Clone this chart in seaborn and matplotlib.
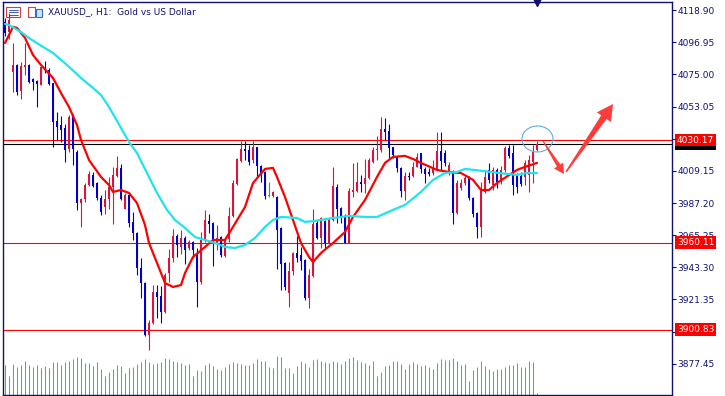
import matplotlib
matplotlib.use("Agg")
import matplotlib.pyplot as plt
from matplotlib.patches import Polygon, Ellipse, Rectangle
import numpy as np
import pandas as pd
import seaborn as sns

# XAUUSD H1 candles, oldest first
opens = [4110.9, 4104.0, 4076.9, 4081.5, 4064.0, 4079.9, 4081.5, 4071.7, 4070.6, 4068.0,
         4079.5, 4078.1, 4069.0, 4043.3, 4040.5, 4038.3, 4023.9, 4046.7, 4022.3, 3987.5,
         3989.8, 3999.5, 4006.4, 4000.7, 3990.5, 3984.7, 3989.8, 3998.0, 4005.9, 4010.9,
         3983.2, 3992.7, 3974.1, 3967.0, 3942.6, 3932.8, 3897.1, 3905.1, 3926.7, 3923.7,
         3913.0, 3939.2, 3949.5, 3964.7, 3957.2, 3963.1, 3956.3, 3960.8, 3951.7, 3933.5,
         3962.0, 3975.0, 3973.4, 3960.1, 3963.8, 3951.1, 3962.5, 3978.4, 4000.2, 4016.1,
         4023.9, 4023.4, 4016.6, 4025.3, 4012.5, 4008.6, 3992.0, 3992.0, 3991.1, 3970.0,
         3946.1, 3926.0, 3940.8, 3953.3, 3951.7, 3948.3, 3922.2, 3937.6, 3973.8, 3963.1,
         3975.0, 3960.1, 3975.6, 3998.4, 3984.0, 3977.9, 3960.1, 3995.0, 3995.6, 4001.8,
         4000.2, 4004.1, 4015.5, 4023.4, 4023.4, 4037.8, 4036.6, 4025.3, 4018.9, 4010.9,
         3995.6, 4005.7, 4005.7, 4012.0, 4021.2, 4010.3, 4008.6, 4007.5, 4010.3, 4022.8,
         4021.2, 4007.5, 4008.6, 3980.6, 3997.3, 4000.7, 4004.1, 3990.5, 3980.6, 3970.9,
         3995.0, 4009.8, 3999.5, 4009.8, 4001.6, 4009.8, 4025.0, 4021.2, 4006.4, 4005.7,
         4005.2, 4006.4, 4015.3, 4023.4]
highs = [4113.6, 4117.0, 4096.7, 4082.2, 4083.8, 4096.3, 4082.2, 4072.6, 4071.3, 4080.3,
         4084.4, 4079.3, 4069.2, 4049.6, 4046.7, 4041.2, 4047.4, 4048.0, 4023.4, 3990.5,
         4000.9, 4009.1, 4008.6, 4001.6, 3992.7, 3996.1, 4005.2, 4012.0, 4019.4, 4013.9,
         3993.9, 3993.4, 3981.3, 3967.6, 3949.5, 3933.3, 3907.3, 3931.2, 3931.2, 3930.6,
         3939.6, 3955.6, 3969.3, 3966.1, 3968.8, 3964.7, 3962.0, 3961.3, 3956.5, 3967.4,
         3982.5, 3979.7, 3974.1, 3972.2, 3964.7, 3963.1, 3984.7, 4003.0, 4017.8, 4029.8,
         4029.8, 4026.9, 4029.8, 4025.7, 4013.2, 4009.3, 4001.8, 3995.6, 3992.0, 3970.7,
         3947.0, 3947.2, 3954.0, 3964.7, 3957.4, 3948.8, 3942.0, 3982.9, 3975.6, 3977.5,
         3975.6, 3977.0, 4012.0, 4000.2, 3984.7, 3979.7, 3997.5, 4014.4, 4015.3, 4006.4,
         4017.1, 4017.8, 4025.7, 4033.0, 4046.2, 4045.3, 4041.2, 4025.7, 4019.6, 4011.8,
         4008.4, 4008.4, 4015.5, 4021.2, 4021.6, 4012.0, 4011.2, 4016.6, 4035.7, 4035.7,
         4023.4, 4015.5, 4009.8, 4003.0, 4003.4, 4005.7, 4005.7, 3991.1, 3981.3, 4001.8,
         4009.8, 4014.6, 4011.8, 4011.2, 4012.5, 4026.2, 4026.9, 4026.9, 4007.7, 4008.4,
         4016.6, 4020.0, 4026.9, 4029.8]
lows = [4101.3, 4099.3, 4063.3, 4061.0, 4058.1, 4074.7, 4069.0, 4064.4, 4053.0, 4067.8,
        4075.8, 4067.8, 4025.3, 4030.3, 4029.1, 4015.5, 4022.3, 4013.2, 3982.5, 3971.1,
        3988.1, 3998.9, 3998.4, 3989.3, 3979.1, 3979.7, 3982.9, 3972.9, 4005.2, 3989.3,
        3982.9, 3971.1, 3962.0, 3938.1, 3922.2, 3896.4, 3886.8, 3904.6, 3908.5, 3905.1,
        3911.9, 3933.5, 3947.2, 3950.6, 3952.4, 3945.6, 3955.1, 3949.5, 3916.4, 3931.9,
        3960.6, 3966.6, 3944.2, 3955.1, 3950.6, 3950.6, 3960.8, 3977.9, 3999.5, 4015.5,
        4016.6, 4013.2, 4014.4, 4005.2, 4001.8, 3989.8, 3991.1, 3991.1, 3942.0, 3927.8,
        3927.8, 3916.4, 3938.1, 3947.2, 3941.5, 3921.0, 3915.3, 3936.9, 3962.5, 3956.3,
        3956.3, 3959.9, 3975.0, 3973.4, 3973.4, 3959.6, 3959.6, 3991.6, 3994.8, 3994.8,
        3993.9, 4003.4, 4014.8, 4016.6, 4022.1, 4030.3, 4017.8, 4018.0, 4008.4, 3991.6,
        3989.3, 4003.0, 4005.0, 4011.8, 4007.5, 4000.7, 4005.7, 4006.4, 4009.8, 4009.8,
        4012.5, 4006.4, 3972.9, 3979.7, 3996.1, 3999.5, 3989.3, 3977.9, 3963.1, 3964.3,
        3994.1, 4000.9, 3996.1, 3997.5, 4000.2, 4008.4, 4018.0, 3992.7, 3994.3, 3998.9,
        3999.5, 3995.0, 4000.9, 4022.8]
closes = [4103.4, 4112.2, 4081.5, 4063.3, 4080.8, 4081.5, 4070.1, 4069.9, 4068.5, 4079.9,
          4078.1, 4068.5, 4042.8, 4039.4, 4037.1, 4023.4, 4046.2, 4023.9, 3987.5, 3989.8,
          3999.5, 4007.1, 3998.9, 3990.5, 3981.3, 3989.8, 3998.4, 4006.4, 4010.9, 3989.8,
          3992.7, 3973.4, 3966.6, 3942.6, 3932.8, 3897.1, 3905.1, 3926.7, 3922.8, 3913.0,
          3938.1, 3949.5, 3964.7, 3958.6, 3963.1, 3955.1, 3960.8, 3955.1, 3933.5, 3962.0,
          3975.6, 3972.9, 3960.8, 3963.5, 3951.7, 3962.5, 3978.4, 4001.1, 4017.1, 4023.9,
          4023.0, 4015.0, 4025.3, 4012.5, 4007.9, 3992.0, 3992.0, 3995.0, 3968.8, 3945.6,
          3930.1, 3941.0, 3953.3, 3949.9, 3947.8, 3922.2, 3938.1, 3972.9, 3963.1, 3976.8,
          3960.1, 3975.6, 3998.9, 3982.9, 3977.9, 3960.1, 3995.6, 3996.1, 4001.8, 4000.2,
          4004.1, 4016.6, 4023.4, 4024.1, 4037.8, 4035.9, 4024.6, 4020.0, 4010.9, 3995.6,
          4005.7, 4004.8, 4012.0, 4018.5, 4010.3, 4007.1, 4007.1, 4010.9, 4022.8, 4016.1,
          4014.4, 4013.2, 3980.6, 4000.7, 4001.1, 4004.1, 3990.5, 3979.7, 3970.7, 3997.5,
          4005.2, 4003.0, 4009.8, 4001.8, 4009.8, 4025.0, 4019.4, 3999.5, 3998.0, 4000.2,
          4014.4, 4016.6, 4022.3, 4027.8]
volumes = [4500, 2850, 4650, 4200, 4500, 5100, 4500, 4200, 4500, 4050,
           4350, 4050, 4950, 4950, 4500, 4950, 5100, 5400, 5700, 5550,
           4800, 4800, 4350, 4950, 3900, 2850, 3450, 3900, 4500, 4350,
           3300, 4050, 4200, 4650, 4950, 5400, 4950, 4650, 4800, 4950,
           5550, 5400, 5100, 4950, 4800, 4500, 4650, 2850, 3750, 3600,
           4500, 4800, 4350, 3900, 3750, 4200, 4650, 4950, 4800, 4650,
           4500, 4500, 4800, 5400, 5100, 5100, 4200, 4050, 5850, 5700,
           4050, 4050, 3300, 4350, 5100, 4800, 4200, 5250, 5400, 5100,
           4950, 4800, 5100, 4950, 4650, 5100, 5550, 5700, 5250, 4950,
           4800, 4500, 5100, 2850, 3450, 4350, 4500, 5100, 5100, 4650,
           3900, 4650, 4950, 4650, 4350, 4500, 4200, 3900, 4800, 5400,
           5250, 5250, 5550, 5100, 4500, 4650, 2100, 3750, 4200, 5100,
           4350, 3900, 3600, 3900, 3900, 4200, 4500, 4500, 4800, 4200,
           4200, 5100, 4950, 350]

# moving averages read at a few candle positions
fast_ma_pos = [0, 2, 3, 5, 7, 9, 12, 14, 16, 18, 19, 21, 24, 26, 27, 29, 31, 33, 35, 36,
               38, 40, 42, 44, 45, 47, 50, 52, 55, 57, 60, 62, 65, 67, 68, 70, 72, 74, 76, 77,
               79, 82, 85, 87, 90, 93, 95, 97, 100, 102, 104, 108, 111, 114, 117, 119, 121, 123,
               128, 130, 133]
fast_ma = [4096.5, 4107.5, 4106.8, 4100.0, 4088.3, 4081.5, 4072.6, 4062.4, 4052.8, 4040.5,
           4030.3, 4016.6, 4005.0, 3999.5, 3994.8, 3996.1, 3994.1, 3987.2, 3972.2, 3959.9,
           3946.3, 3932.6, 3929.9, 3931.2, 3939.4, 3950.4, 3957.2, 3962.0, 3962.0, 3970.9,
           3984.5, 4000.9, 4010.5, 4011.2, 4005.0, 3991.3, 3975.6, 3959.9, 3950.4, 3946.9,
           3953.1, 3959.9, 3967.4, 3977.7, 3989.3, 4005.0, 4014.6, 4018.7, 4019.4, 4017.3,
           4014.6, 4009.8, 4008.4, 4007.7, 4003.0, 3996.1, 3996.1, 4000.9, 4009.8, 4011.9,
           4014.6]
slow_ma_pos = [0, 1, 4, 6, 9.5, 12, 15.5, 19, 22, 24, 26, 29, 31, 33, 35.5, 38, 40.5, 42.5,
               45, 47.5, 50, 52.5, 55, 57.5, 60, 62.5, 65, 67, 69, 73, 75, 77.5, 82, 86, 90,
               93, 97, 100, 104, 107, 110, 113, 115, 119.5, 123.5, 128, 130.5, 133]
slow_ma = [4109.5, 4108.8, 4104.0, 4099.9, 4093.8, 4089.7, 4081.5, 4072.6, 4065.8, 4061.0,
           4052.8, 4038.5, 4028.9, 4021.4, 4007.7, 3994.1, 3982.5, 3975.6, 3970.2, 3964.0,
           3962.0, 3959.9, 3957.2, 3956.5, 3958.6, 3963.3, 3970.9, 3975.6, 3977.7, 3977.0,
           3974.3, 3975.0, 3977.0, 3978.4, 3977.7, 3977.7, 3982.5, 3985.9, 3994.8, 4003.0,
           4007.7, 4008.4, 4010.5, 4009.1, 4007.7, 4006.4, 4007.7, 4007.7]

# price scale; labels of the two ticks that sit under the level boxes are covered
price_ticks = [3877.45, 3899.40, 3921.35, 3943.30, 3965.25, 3987.20,
               4009.15, 4031.10, 4053.05, 4075.00, 4096.95, 4118.90]
tick_labels = ["3877.45", "", "3921.35", "3943.30", "3965.25", "3987.20",
               "4009.15", "", "4053.05", "4075.00", "4096.95", "4118.90"]
levels = [4030.17, 3960.11, 3900.83]
title = "XAUUSD_, H1:  Gold vs US Dollar"

W, H = 725, 396
NAVY = "#10106e"
BULL = "#dc143c"
BEAR = "#0000cd"
DOJI = "#00c800"

sns.set_style("white")
plt.rcParams["font.family"] = ["DejaVu Sans"]


def fpx(x, y):
    # screen pixel -> figure fraction
    return x / W, 1 - y / H


def tapered_arrow(x0, y0, x1, y1, tail_w, neck_w, head_w, head_len):
    p0 = np.array([x0, H - y0], float)
    p1 = np.array([x1, H - y1], float)
    u = (p1 - p0) / np.hypot(*(p1 - p0))
    n = np.array([-u[1], u[0]])
    neck = p1 - u * head_len
    pts = [p0 + n * tail_w / 2, neck + n * neck_w / 2, neck + n * head_w / 2, p1,
           neck - n * head_w / 2, neck - n * neck_w / 2, p0 - n * tail_w / 2]
    return np.array(pts) / [W, H]


df = pd.DataFrame({"o": opens, "h": highs, "l": lows, "c": closes, "v": volumes})
df["i"] = np.arange(len(df))
colors = np.where(df.c > df.o, BULL, np.where(df.c < df.o, BEAR, DOJI))

fig = plt.figure(figsize=(W / 100, H / 100), dpi=100)
rect = [3 / W, 1 - 395 / H, 669 / W, 393 / H]
vax = fig.add_axes(rect, zorder=0)
ax = fig.add_axes(rect, zorder=1)
ax.patch.set_alpha(0)
xlim = (-0.5, 166.75)
ylim = (3856.1, 4124.5)

# tick volumes along the bottom
vax.vlines(df.i, 0, df.v, color="#32cd32", lw=0.75)
vax.set_xlim(xlim)
vax.set_ylim(0, df.v.max() * 10.2)
vax.axis("off")

# candles
ax.vlines(df.i, df.l, df.h, colors=colors, lw=0.8, zorder=3)
body_lo = np.minimum(df.o, df.c)
body_h = (df.c - df.o).abs().clip(lower=0.5)
ax.bar(df.i, body_h, bottom=body_lo, width=0.7, color=colors, lw=0, zorder=3)

# moving averages
sns.lineplot(x=fast_ma_pos, y=fast_ma, ax=ax, color="#ff0000", lw=1.6,
             estimator=None, sort=False, zorder=4)
sns.lineplot(x=slow_ma_pos, y=slow_ma, ax=ax, color="#1ee4ec", lw=1.6,
             estimator=None, sort=False, zorder=4)

# horizontal levels and bid line
bid = closes[-1]
for lv in levels:
    ax.axhline(lv, color="#ff0000", lw=0.8, zorder=2)
ax.axhline(bid, color="black", lw=0.8, zorder=2)

ax.set_xlim(xlim)
ax.set_ylim(ylim)
ax.set_xticks([])
ax.set_xlabel("")
ax.set_ylabel("")
ax.yaxis.tick_right()
ax.set_yticks(price_ticks)
ax.set_yticklabels(tick_labels)
ax.tick_params(axis="y", direction="out", length=3, width=0.8, color=NAVY,
               labelcolor=NAVY, labelsize=6.5, pad=1)
for sp in ax.spines.values():
    sp.set_color(NAVY)
    sp.set_linewidth(1.0)

ytr = ax.get_yaxis_transform()
ax.text(1.0075, bid, f"{bid:.2f}", transform=ytr, color="white", fontsize=6.5,
        va="center", ha="left", clip_on=False, zorder=6,
        bbox=dict(boxstyle="square,pad=0.2", fc="black", ec="none"))
for lv in levels:
    ax.text(1.0075, lv, f"{lv:.2f}", transform=ytr, color="white", fontsize=6.5,
            va="center", ha="left", clip_on=False, zorder=7,
            bbox=dict(boxstyle="square,pad=0.2", fc="#ff0000", ec="none"))

# shift marker at the top
ax.plot([133], [ylim[1]], marker="v", ms=6, color=NAVY, clip_on=False, zorder=8)

# header: two small icons and the symbol text
fig.add_artist(Rectangle(fpx(6, 17), 14 / W, 10 / H, transform=fig.transFigure,
                         fc="white", ec="#d04040", lw=0.8))
for yy in (9.5, 12, 14.5):
    fig.add_artist(plt.Line2D([fpx(9, 0)[0], fpx(18, 0)[0]], [fpx(0, yy)[1]] * 2,
                              transform=fig.transFigure, color="#2040a0", lw=0.6))
fig.add_artist(Rectangle(fpx(28, 17), 7 / W, 10 / H, transform=fig.transFigure,
                         fc="white", ec="#d04040", lw=0.8))
fig.add_artist(Rectangle(fpx(36, 17), 6 / W, 8 / H, transform=fig.transFigure,
                         fc="#cfe3f7", ec="#3070c0", lw=0.8))
fig.text(*fpx(48, 12), title, color=NAVY, fontsize=6.5, va="center", ha="left")

# annotation: circle on the last candle and the two red arrows
fig.add_artist(Ellipse(fpx(537.5, 139), 31 / W, 26 / H, transform=fig.transFigure,
                       fill=False, ec="#5dade2", lw=0.8, zorder=9))
fig.add_artist(Polygon(tapered_arrow(543, 141, 564, 174, 1.0, 4.0, 11, 10),
                       closed=True, transform=fig.transFigure, fc="#ff3b3b", ec="none", zorder=9))
fig.add_artist(Polygon(tapered_arrow(566, 172, 613, 104, 1.5, 6.5, 17, 16),
                       closed=True, transform=fig.transFigure, fc="#ff3b3b", ec="none", zorder=9))

fig.savefig("out.png", dpi=100)
plt.close(fig)
